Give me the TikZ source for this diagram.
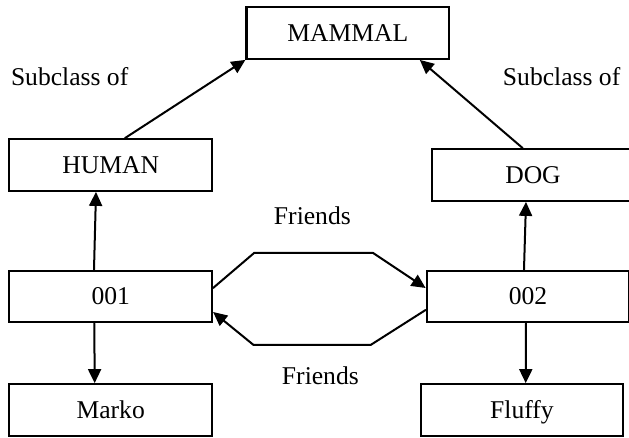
\documentclass[tikz,border=0pt]{standalone}
\usepackage{fontspec}
\setmainfont{Liberation Serif}
\usetikzlibrary{arrows.meta}

\begin{document}
\begin{tikzpicture}[x=0.5pt,y=-0.5pt,>={Triangle[length=7pt,width=6.5pt]},
  font=\fontsize{12.8}{15}\selectfont,line cap=round,line width=1pt,
  box/.style={draw,line width=1.1pt,minimum width=101.3pt,minimum height=25.8pt,
    inner sep=0pt,text height=8.5pt,text depth=0pt},
  lbl/.style={anchor=base west,inner sep=0pt}]
\useasboundingbox (0,0) rectangle (629,438);
% classes
\node[box] (mammal) at (347.8,33) {MAMMAL};
\node[box] (human) at (110.7,165) {HUMAN};
\node[box] (dog) at (533,175) {DOG};
% instances
\node[box] (n001) at (110.7,296.5) {001};
\node[box] (n002) at (528,296.5) {002};
\node[box] (marko) at (110.7,410) {Marko};
\node[box] (fluffy) at (522,410) {Fluffy};
% labels
\node[lbl] (subl) at (10,86) {Subclass of};
\node[lbl] (subr) at (502,86) {Subclass of};
\node[lbl] (frtop) at (273,225) {Friends};
\node[lbl] (frbot) at (281,385) {Friends};
% subclass links
\draw[->] ([xshift=7.15pt]human.north) -- (mammal.south west);
\draw[->] ([xshift=-5.15pt]dog.north) -- ([xshift=36pt]mammal.south);
\draw[->] ([xshift=-8.35pt]n001.north) -- ([xshift=-7.35pt]human.south);
\draw[->] ([xshift=-2pt]n002.north) -- ([xshift=-3.5pt]dog.south);
\draw[->] ([xshift=-8.2pt]n001.south) -- ([xshift=-8pt]marko.north);
\draw[->] ([xshift=-1pt]n002.south) -- ([xshift=1.85pt]fluffy.north);
% friends
\draw[->] ([yshift=4.25pt]n001.east) -- ++(41,-35) -- ++(119,0) -- ([yshift=4.25pt]n002.west);
\draw[->] ([yshift=-6.75pt]n002.west) -- ++(-55,35) -- ++(-117,0) -- ([yshift=-7.75pt]n001.east);
\end{tikzpicture}
\end{document}
